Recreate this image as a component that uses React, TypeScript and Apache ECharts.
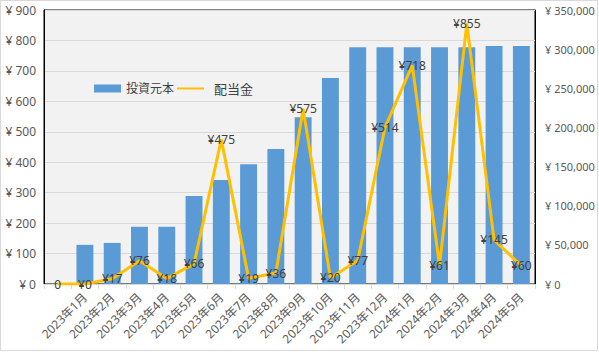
import React, { useEffect, useRef } from "react";
import * as echarts from "echarts";

const categories = ["", "2023年1月", "2023年2月", "2023年3月", "2023年4月", "2023年5月", "2023年6月", "2023年7月", "2023年8月", "2023年9月", "2023年10月", "2023年11月", "2023年12月", "2024年1月", "2024年2月", "2024年3月", "2024年4月", "2024年5月"];
const principal = [null, 50000, 52500, 73000, 73000, 112500, 133000, 153000, 172500, 213000, 263000, 302500, 302500, 302500, 302500, 302500, 304000, 304000];
const dividends = [0, 0, 17, 76, 18, 66, 475, 19, 36, 575, 20, 77, 514, 718, 61, 855, 145, 60];
const leftTicks = { min: 0, max: 900, interval: 100 };
const rightTicks = { min: 0, max: 350000, interval: 50000 };

const FONT = "'Noto Sans', 'Noto Sans CJK JP', sans-serif";

export default function App() {
  const ref = useRef<HTMLDivElement>(null);
  useEffect(() => {
    const chart = echarts.init(ref.current!, null, { renderer: "svg" });
    chart.setOption({
      animation: false,
      backgroundColor: "#ffffff",
      textStyle: { fontFamily: FONT },
      graphic: [
        {
          type: "rect",
          shape: { x: 0.5, y: 0.5, width: 597, height: 350 },
          style: { fill: "none", stroke: "#d9d9d9", lineWidth: 1 },
          silent: true,
        },
      ],
      grid: {
        left: 44,
        right: 64,
        top: 10,
        bottom: 68,
        show: true,
        backgroundColor: "#f2f2f2",
        borderColor: "#000000",
        borderWidth: 1,
      },
      legend: {
        left: 89,
        top: 77,
        itemGap: 2,
        itemWidth: 27,
        itemHeight: 8,
        textStyle: { fontSize: 12, color: "#404040", fontFamily: FONT },
        data: [
          { name: "投資元本", icon: "rect" },
          {
            name: "配当金",
            itemStyle: { opacity: 0 },
            textStyle: { fontSize: 13, color: "#404040", padding: [0, 0, 0, 5] },
          },
        ],
      },
      xAxis: {
        type: "category",
        data: categories,
        axisLine: { show: true, lineStyle: { color: "#d9d9d9" } },
        axisTick: { show: true, length: 5, lineStyle: { color: "#d9d9d9" } },
        axisLabel: { rotate: 45, fontSize: 12, color: "#595959", interval: 0, margin: 11 },
      },
      yAxis: [
        {
          type: "value",
          ...leftTicks,
          position: "left",
          axisLine: { show: true, lineStyle: { color: "#000000" } },
          axisTick: { show: false },
          splitLine: { show: true, lineStyle: { color: "#d9d9d9" } },
          axisLabel: { fontSize: 12, color: "#595959", margin: 8, formatter: (v: number) => "¥ " + v },
        },
        {
          type: "value",
          ...rightTicks,
          position: "right",
          axisLine: { show: true, lineStyle: { color: "#000000" } },
          axisTick: { show: false },
          splitLine: { show: false },
          axisLabel: {
            fontSize: 11,
            color: "#595959",
            margin: 10,
            formatter: (v: number) => "¥ " + v.toLocaleString("en-US"),
          },
        },
      ],
      series: [
        {
          name: "投資元本",
          type: "bar",
          yAxisIndex: 1,
          data: principal,
          barWidth: "62%",
          itemStyle: { color: "#5b9bd5" },
        },
        {
          name: "配当金",
          type: "line",
          yAxisIndex: 0,
          data: dividends,
          symbol: "circle",
          symbolSize: 1,
          itemStyle: { color: "#ffc000" },
          lineStyle: { color: "#ffc000", width: 3 },
          label: {
            show: true,
            position: "inside",
            fontSize: 12,
            color: "#404040",
            formatter: (p: any) => (p.dataIndex === 0 ? String(p.value) : "¥" + p.value),
          },
        },
      ],
    });
    return () => chart.dispose();
  }, []);
  return (
    <div
      ref={ref}
      style={{ position: "absolute", left: 0, top: 0, width: 599, height: 352 }}
    />
  );
}
